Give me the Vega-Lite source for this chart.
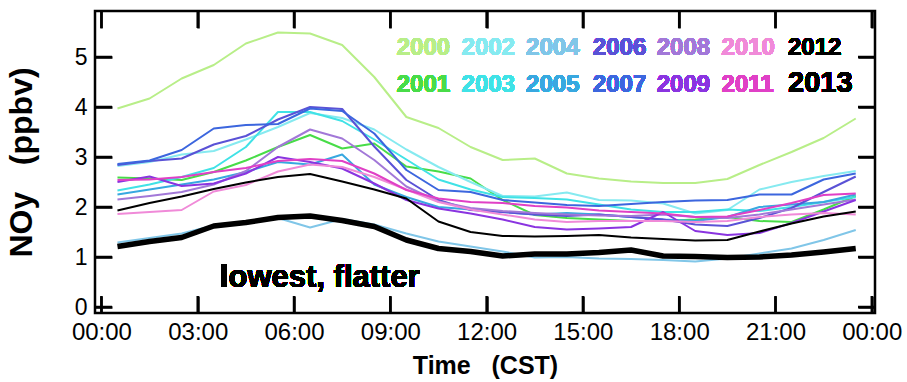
{
  "$schema": "https://vega.github.io/schema/vega-lite/v6.json",
  "width": 780,
  "height": 302,
  "autosize": "none",
  "padding": {"left": 95, "top": 11, "right": 32, "bottom": 69},
  "background": "white",
  "config": {"view": {"stroke": "black", "strokeWidth": 2.5}, "font": "Liberation Sans"},
  "data": {"values": [
    {"year":"2000","hour":0.5,"noy":3.97},{"year":"2000","hour":1.5,"noy":4.17},{"year":"2000","hour":2.5,"noy":4.57},{"year":"2000","hour":3.5,"noy":4.84},{"year":"2000","hour":4.5,"noy":5.27},{"year":"2000","hour":5.5,"noy":5.49},{"year":"2000","hour":6.5,"noy":5.47},{"year":"2000","hour":7.5,"noy":5.24},{"year":"2000","hour":8.5,"noy":4.6},{"year":"2000","hour":9.5,"noy":3.8},{"year":"2000","hour":10.5,"noy":3.58},{"year":"2000","hour":11.5,"noy":3.2},{"year":"2000","hour":12.5,"noy":2.94},{"year":"2000","hour":13.5,"noy":2.97},{"year":"2000","hour":14.5,"noy":2.67},{"year":"2000","hour":15.5,"noy":2.57},{"year":"2000","hour":16.5,"noy":2.51},{"year":"2000","hour":17.5,"noy":2.48},{"year":"2000","hour":18.5,"noy":2.48},{"year":"2000","hour":19.5,"noy":2.56},{"year":"2000","hour":20.5,"noy":2.84},{"year":"2000","hour":21.5,"noy":3.1},{"year":"2000","hour":22.5,"noy":3.38},{"year":"2000","hour":23.5,"noy":3.77},
    {"year":"2001","hour":0.5,"noy":2.59},{"year":"2001","hour":1.5,"noy":2.57},{"year":"2001","hour":2.5,"noy":2.54},{"year":"2001","hour":3.5,"noy":2.7},{"year":"2001","hour":4.5,"noy":2.93},{"year":"2001","hour":5.5,"noy":3.2},{"year":"2001","hour":6.5,"noy":3.44},{"year":"2001","hour":7.5,"noy":3.17},{"year":"2001","hour":8.5,"noy":3.27},{"year":"2001","hour":9.5,"noy":2.81},{"year":"2001","hour":10.5,"noy":2.71},{"year":"2001","hour":11.5,"noy":2.57},{"year":"2001","hour":12.5,"noy":2.14},{"year":"2001","hour":13.5,"noy":1.84},{"year":"2001","hour":14.5,"noy":1.78},{"year":"2001","hour":15.5,"noy":1.75},{"year":"2001","hour":16.5,"noy":1.72},{"year":"2001","hour":17.5,"noy":1.72},{"year":"2001","hour":18.5,"noy":1.75},{"year":"2001","hour":19.5,"noy":1.8},{"year":"2001","hour":20.5,"noy":1.72},{"year":"2001","hour":21.5,"noy":1.7},{"year":"2001","hour":22.5,"noy":1.95},{"year":"2001","hour":23.5,"noy":2.22},
    {"year":"2002","hour":0.5,"noy":2.82},{"year":"2002","hour":1.5,"noy":2.9},{"year":"2002","hour":2.5,"noy":3.05},{"year":"2002","hour":3.5,"noy":3.12},{"year":"2002","hour":4.5,"noy":3.35},{"year":"2002","hour":5.5,"noy":3.6},{"year":"2002","hour":6.5,"noy":3.88},{"year":"2002","hour":7.5,"noy":3.78},{"year":"2002","hour":8.5,"noy":3.55},{"year":"2002","hour":9.5,"noy":3.15},{"year":"2002","hour":10.5,"noy":2.8},{"year":"2002","hour":11.5,"noy":2.5},{"year":"2002","hour":12.5,"noy":2.22},{"year":"2002","hour":13.5,"noy":2.21},{"year":"2002","hour":14.5,"noy":2.29},{"year":"2002","hour":15.5,"noy":2.14},{"year":"2002","hour":16.5,"noy":2.13},{"year":"2002","hour":17.5,"noy":2.07},{"year":"2002","hour":18.5,"noy":1.87},{"year":"2002","hour":19.5,"noy":1.94},{"year":"2002","hour":20.5,"noy":2.35},{"year":"2002","hour":21.5,"noy":2.5},{"year":"2002","hour":22.5,"noy":2.62},{"year":"2002","hour":23.5,"noy":2.72},
    {"year":"2003","hour":0.5,"noy":2.33},{"year":"2003","hour":1.5,"noy":2.45},{"year":"2003","hour":2.5,"noy":2.6},{"year":"2003","hour":3.5,"noy":2.78},{"year":"2003","hour":4.5,"noy":3.2},{"year":"2003","hour":5.5,"noy":3.9},{"year":"2003","hour":6.5,"noy":3.9},{"year":"2003","hour":7.5,"noy":3.72},{"year":"2003","hour":8.5,"noy":3.35},{"year":"2003","hour":9.5,"noy":2.95},{"year":"2003","hour":10.5,"noy":2.55},{"year":"2003","hour":11.5,"noy":2.35},{"year":"2003","hour":12.5,"noy":2.2},{"year":"2003","hour":13.5,"noy":2.18},{"year":"2003","hour":14.5,"noy":2.15},{"year":"2003","hour":15.5,"noy":2.05},{"year":"2003","hour":16.5,"noy":1.95},{"year":"2003","hour":17.5,"noy":1.9},{"year":"2003","hour":18.5,"noy":1.9},{"year":"2003","hour":19.5,"noy":1.95},{"year":"2003","hour":20.5,"noy":1.92},{"year":"2003","hour":21.5,"noy":2.0},{"year":"2003","hour":22.5,"noy":2.1},{"year":"2003","hour":23.5,"noy":2.2},
    {"year":"2004","hour":0.5,"noy":1.29},{"year":"2004","hour":1.5,"noy":1.38},{"year":"2004","hour":2.5,"noy":1.47},{"year":"2004","hour":3.5,"noy":1.63},{"year":"2004","hour":4.5,"noy":1.71},{"year":"2004","hour":5.5,"noy":1.78},{"year":"2004","hour":6.5,"noy":1.59},{"year":"2004","hour":7.5,"noy":1.76},{"year":"2004","hour":8.5,"noy":1.65},{"year":"2004","hour":9.5,"noy":1.47},{"year":"2004","hour":10.5,"noy":1.31},{"year":"2004","hour":11.5,"noy":1.21},{"year":"2004","hour":12.5,"noy":1.11},{"year":"2004","hour":13.5,"noy":0.99},{"year":"2004","hour":14.5,"noy":1.0},{"year":"2004","hour":15.5,"noy":0.97},{"year":"2004","hour":16.5,"noy":0.96},{"year":"2004","hour":17.5,"noy":0.94},{"year":"2004","hour":18.5,"noy":0.91},{"year":"2004","hour":19.5,"noy":0.97},{"year":"2004","hour":20.5,"noy":1.07},{"year":"2004","hour":21.5,"noy":1.17},{"year":"2004","hour":22.5,"noy":1.34},{"year":"2004","hour":23.5,"noy":1.54},
    {"year":"2005","hour":0.5,"noy":2.25},{"year":"2005","hour":1.5,"noy":2.35},{"year":"2005","hour":2.5,"noy":2.45},{"year":"2005","hour":3.5,"noy":2.55},{"year":"2005","hour":4.5,"noy":2.7},{"year":"2005","hour":5.5,"noy":2.9},{"year":"2005","hour":6.5,"noy":2.85},{"year":"2005","hour":7.5,"noy":3.05},{"year":"2005","hour":8.5,"noy":2.45},{"year":"2005","hour":9.5,"noy":2.2},{"year":"2005","hour":10.5,"noy":2.0},{"year":"2005","hour":11.5,"noy":1.95},{"year":"2005","hour":12.5,"noy":1.9},{"year":"2005","hour":13.5,"noy":1.85},{"year":"2005","hour":14.5,"noy":1.88},{"year":"2005","hour":15.5,"noy":1.85},{"year":"2005","hour":16.5,"noy":1.8},{"year":"2005","hour":17.5,"noy":1.75},{"year":"2005","hour":18.5,"noy":1.72},{"year":"2005","hour":19.5,"noy":1.8},{"year":"2005","hour":20.5,"noy":2.0},{"year":"2005","hour":21.5,"noy":2.05},{"year":"2005","hour":22.5,"noy":2.1},{"year":"2005","hour":23.5,"noy":2.25},
    {"year":"2006","hour":0.5,"noy":2.84},{"year":"2006","hour":1.5,"noy":2.92},{"year":"2006","hour":2.5,"noy":2.97},{"year":"2006","hour":3.5,"noy":3.25},{"year":"2006","hour":4.5,"noy":3.42},{"year":"2006","hour":5.5,"noy":3.75},{"year":"2006","hour":6.5,"noy":4.0},{"year":"2006","hour":7.5,"noy":3.96},{"year":"2006","hour":8.5,"noy":3.21},{"year":"2006","hour":9.5,"noy":2.54},{"year":"2006","hour":10.5,"noy":2.14},{"year":"2006","hour":11.5,"noy":1.94},{"year":"2006","hour":12.5,"noy":1.9},{"year":"2006","hour":13.5,"noy":1.85},{"year":"2006","hour":14.5,"noy":1.82},{"year":"2006","hour":15.5,"noy":1.85},{"year":"2006","hour":16.5,"noy":1.8},{"year":"2006","hour":17.5,"noy":1.75},{"year":"2006","hour":18.5,"noy":1.65},{"year":"2006","hour":19.5,"noy":1.62},{"year":"2006","hour":20.5,"noy":1.78},{"year":"2006","hour":21.5,"noy":1.98},{"year":"2006","hour":22.5,"noy":2.3},{"year":"2006","hour":23.5,"noy":2.61},
    {"year":"2007","hour":0.5,"noy":2.86},{"year":"2007","hour":1.5,"noy":2.93},{"year":"2007","hour":2.5,"noy":3.14},{"year":"2007","hour":3.5,"noy":3.57},{"year":"2007","hour":4.5,"noy":3.64},{"year":"2007","hour":5.5,"noy":3.66},{"year":"2007","hour":6.5,"noy":3.97},{"year":"2007","hour":7.5,"noy":3.92},{"year":"2007","hour":8.5,"noy":3.47},{"year":"2007","hour":9.5,"noy":2.74},{"year":"2007","hour":10.5,"noy":2.34},{"year":"2007","hour":11.5,"noy":2.3},{"year":"2007","hour":12.5,"noy":2.14},{"year":"2007","hour":13.5,"noy":2.09},{"year":"2007","hour":14.5,"noy":2.04},{"year":"2007","hour":15.5,"noy":2.02},{"year":"2007","hour":16.5,"noy":2.06},{"year":"2007","hour":17.5,"noy":2.1},{"year":"2007","hour":18.5,"noy":2.13},{"year":"2007","hour":19.5,"noy":2.14},{"year":"2007","hour":20.5,"noy":2.25},{"year":"2007","hour":21.5,"noy":2.25},{"year":"2007","hour":22.5,"noy":2.55},{"year":"2007","hour":23.5,"noy":2.67},
    {"year":"2008","hour":0.5,"noy":2.15},{"year":"2008","hour":1.5,"noy":2.22},{"year":"2008","hour":2.5,"noy":2.3},{"year":"2008","hour":3.5,"noy":2.45},{"year":"2008","hour":4.5,"noy":2.72},{"year":"2008","hour":5.5,"noy":3.2},{"year":"2008","hour":6.5,"noy":3.55},{"year":"2008","hour":7.5,"noy":3.37},{"year":"2008","hour":8.5,"noy":2.94},{"year":"2008","hour":9.5,"noy":2.41},{"year":"2008","hour":10.5,"noy":2.11},{"year":"2008","hour":11.5,"noy":1.98},{"year":"2008","hour":12.5,"noy":1.92},{"year":"2008","hour":13.5,"noy":1.88},{"year":"2008","hour":14.5,"noy":1.85},{"year":"2008","hour":15.5,"noy":1.83},{"year":"2008","hour":16.5,"noy":1.82},{"year":"2008","hour":17.5,"noy":1.85},{"year":"2008","hour":18.5,"noy":1.8},{"year":"2008","hour":19.5,"noy":1.78},{"year":"2008","hour":20.5,"noy":1.85},{"year":"2008","hour":21.5,"noy":1.95},{"year":"2008","hour":22.5,"noy":2.05},{"year":"2008","hour":23.5,"noy":2.15},
    {"year":"2009","hour":0.5,"noy":2.5},{"year":"2009","hour":1.5,"noy":2.61},{"year":"2009","hour":2.5,"noy":2.42},{"year":"2009","hour":3.5,"noy":2.47},{"year":"2009","hour":4.5,"noy":2.67},{"year":"2009","hour":5.5,"noy":3.0},{"year":"2009","hour":6.5,"noy":2.9},{"year":"2009","hour":7.5,"noy":2.77},{"year":"2009","hour":8.5,"noy":2.47},{"year":"2009","hour":9.5,"noy":2.14},{"year":"2009","hour":10.5,"noy":1.97},{"year":"2009","hour":11.5,"noy":1.87},{"year":"2009","hour":12.5,"noy":1.75},{"year":"2009","hour":13.5,"noy":1.6},{"year":"2009","hour":14.5,"noy":1.55},{"year":"2009","hour":15.5,"noy":1.57},{"year":"2009","hour":16.5,"noy":1.6},{"year":"2009","hour":17.5,"noy":1.9},{"year":"2009","hour":18.5,"noy":1.52},{"year":"2009","hour":19.5,"noy":1.44},{"year":"2009","hour":20.5,"noy":1.48},{"year":"2009","hour":21.5,"noy":1.68},{"year":"2009","hour":22.5,"noy":1.91},{"year":"2009","hour":23.5,"noy":2.14},
    {"year":"2010","hour":0.5,"noy":1.86},{"year":"2010","hour":1.5,"noy":1.9},{"year":"2010","hour":2.5,"noy":1.94},{"year":"2010","hour":3.5,"noy":2.31},{"year":"2010","hour":4.5,"noy":2.44},{"year":"2010","hour":5.5,"noy":2.71},{"year":"2010","hour":6.5,"noy":2.85},{"year":"2010","hour":7.5,"noy":2.8},{"year":"2010","hour":8.5,"noy":2.6},{"year":"2010","hour":9.5,"noy":2.35},{"year":"2010","hour":10.5,"noy":2.1},{"year":"2010","hour":11.5,"noy":1.95},{"year":"2010","hour":12.5,"noy":1.85},{"year":"2010","hour":13.5,"noy":1.75},{"year":"2010","hour":14.5,"noy":1.7},{"year":"2010","hour":15.5,"noy":1.72},{"year":"2010","hour":16.5,"noy":1.72},{"year":"2010","hour":17.5,"noy":1.72},{"year":"2010","hour":18.5,"noy":1.7},{"year":"2010","hour":19.5,"noy":1.72},{"year":"2010","hour":20.5,"noy":1.8},{"year":"2010","hour":21.5,"noy":1.85},{"year":"2010","hour":22.5,"noy":1.88},{"year":"2010","hour":23.5,"noy":1.85},
    {"year":"2011","hour":0.5,"noy":2.54},{"year":"2011","hour":1.5,"noy":2.55},{"year":"2011","hour":2.5,"noy":2.6},{"year":"2011","hour":3.5,"noy":2.7},{"year":"2011","hour":4.5,"noy":2.78},{"year":"2011","hour":5.5,"noy":2.92},{"year":"2011","hour":6.5,"noy":2.96},{"year":"2011","hour":7.5,"noy":2.92},{"year":"2011","hour":8.5,"noy":2.67},{"year":"2011","hour":9.5,"noy":2.34},{"year":"2011","hour":10.5,"noy":2.17},{"year":"2011","hour":11.5,"noy":2.1},{"year":"2011","hour":12.5,"noy":2.08},{"year":"2011","hour":13.5,"noy":2.02},{"year":"2011","hour":14.5,"noy":1.99},{"year":"2011","hour":15.5,"noy":1.93},{"year":"2011","hour":16.5,"noy":1.9},{"year":"2011","hour":17.5,"noy":1.87},{"year":"2011","hour":18.5,"noy":1.8},{"year":"2011","hour":19.5,"noy":1.81},{"year":"2011","hour":20.5,"noy":1.94},{"year":"2011","hour":21.5,"noy":2.08},{"year":"2011","hour":22.5,"noy":2.24},{"year":"2011","hour":23.5,"noy":2.27},
    {"year":"2012","hour":0.5,"noy":1.93},{"year":"2012","hour":1.5,"noy":2.08},{"year":"2012","hour":2.5,"noy":2.21},{"year":"2012","hour":3.5,"noy":2.36},{"year":"2012","hour":4.5,"noy":2.49},{"year":"2012","hour":5.5,"noy":2.6},{"year":"2012","hour":6.5,"noy":2.66},{"year":"2012","hour":7.5,"noy":2.51},{"year":"2012","hour":8.5,"noy":2.35},{"year":"2012","hour":9.5,"noy":2.17},{"year":"2012","hour":10.5,"noy":1.71},{"year":"2012","hour":11.5,"noy":1.5},{"year":"2012","hour":12.5,"noy":1.42},{"year":"2012","hour":13.5,"noy":1.41},{"year":"2012","hour":14.5,"noy":1.42},{"year":"2012","hour":15.5,"noy":1.44},{"year":"2012","hour":16.5,"noy":1.39},{"year":"2012","hour":17.5,"noy":1.36},{"year":"2012","hour":18.5,"noy":1.33},{"year":"2012","hour":19.5,"noy":1.34},{"year":"2012","hour":20.5,"noy":1.51},{"year":"2012","hour":21.5,"noy":1.67},{"year":"2012","hour":22.5,"noy":1.81},{"year":"2012","hour":23.5,"noy":1.91},
    {"year":"2013","hour":0.5,"noy":1.21},{"year":"2013","hour":1.5,"noy":1.31},{"year":"2013","hour":2.5,"noy":1.39},{"year":"2013","hour":3.5,"noy":1.62},{"year":"2013","hour":4.5,"noy":1.69},{"year":"2013","hour":5.5,"noy":1.79},{"year":"2013","hour":6.5,"noy":1.82},{"year":"2013","hour":7.5,"noy":1.73},{"year":"2013","hour":8.5,"noy":1.61},{"year":"2013","hour":9.5,"noy":1.34},{"year":"2013","hour":10.5,"noy":1.17},{"year":"2013","hour":11.5,"noy":1.11},{"year":"2013","hour":12.5,"noy":1.02},{"year":"2013","hour":13.5,"noy":1.06},{"year":"2013","hour":14.5,"noy":1.06},{"year":"2013","hour":15.5,"noy":1.09},{"year":"2013","hour":16.5,"noy":1.14},{"year":"2013","hour":17.5,"noy":1.02},{"year":"2013","hour":18.5,"noy":1.01},{"year":"2013","hour":19.5,"noy":0.99},{"year":"2013","hour":20.5,"noy":1.0},{"year":"2013","hour":21.5,"noy":1.04},{"year":"2013","hour":22.5,"noy":1.1},{"year":"2013","hour":23.5,"noy":1.17}
  ]},
  "resolve": {"axis": {"x": "independent", "y": "independent"}},
  "layer": [
    {
      "transform": [{"filter": "datum.year !== '2013'"}],
      "mark": {"type": "line", "strokeWidth": 2, "strokeJoin": "round"},
      "encoding": {
        "x": {
          "field": "hour", "type": "quantitative",
          "scale": {"domain": [-0.2, 24.1], "nice": false, "zero": false},
          "axis": {
            "orient": "bottom", "values": [0, 3, 6, 9, 12, 15, 18, 21, 24],
            "labelExpr": "(datum.value % 24 < 10 ? '0' : '') + (datum.value % 24) + ':00'",
            "domain": false, "grid": false, "offset": -17,
            "ticks": true, "tickSize": 17, "tickWidth": 2.5, "tickColor": "black",
            "labelFont": "Liberation Sans", "labelFontSize": 24, "labelColor": "black",
            "labelPadding": 7, "labelFlush": false, "labelOverlap": false, "labelBound": false,
            "title": "Time\u00a0\u00a0\u00a0(CST)", "titleFont": "Liberation Sans", "titleFontSize": 25,
            "titleFontWeight": "bold", "titleColor": "black", "titlePadding": 9
          }
        },
        "y": {
          "field": "noy", "type": "quantitative",
          "scale": {"domain": [-0.12, 5.92], "nice": false, "zero": false},
          "axis": {
            "orient": "left", "values": [0, 1, 2, 3, 4, 5],
            "domain": false, "grid": false, "offset": -17,
            "ticks": true, "tickSize": 17, "tickWidth": 2.5, "tickColor": "black",
            "labelFont": "Liberation Sans", "labelFontSize": 23, "labelColor": "black",
            "labelPadding": 8, "labelFlush": false, "labelOverlap": false, "labelBound": false,
            "title": "NOy\u00a0\u00a0\u00a0(ppbv)", "titleFont": "Liberation Sans", "titleFontSize": 32,
            "titleFontWeight": "bold", "titleColor": "black", "titlePadding": 36
          }
        },
        "color": {
          "field": "year", "type": "nominal",
          "scale": {
            "domain": ["2000", "2001", "2002", "2003", "2004", "2005", "2006", "2007", "2008", "2009", "2010", "2011", "2012", "2013"],
            "range": ["#b8ee88", "#48dc48", "#86eaf0", "#40e2e6", "#80c6e8", "#38a8e0", "#5a52d6", "#3c66de", "#a278d8", "#8a34e0", "#f08ad8", "#e040c6", "#000000", "#000000"]
          },
          "legend": null
        }
      }
    },
    {
      "transform": [{"filter": "datum.year === '2013'"}],
      "mark": {"type": "line", "strokeWidth": 5.5, "strokeJoin": "round"},
      "encoding": {
        "x": {
          "field": "hour", "type": "quantitative",
          "axis": {
            "orient": "top", "values": [0, 3, 6, 9, 12, 15, 18, 21, 24],
            "labels": false, "domain": false, "grid": false, "title": null, "offset": -17,
            "ticks": true, "tickSize": 17, "tickWidth": 2.5, "tickColor": "black"
          }
        },
        "y": {
          "field": "noy", "type": "quantitative",
          "axis": {
            "orient": "right", "values": [0, 1, 2, 3, 4, 5],
            "labels": false, "domain": false, "grid": false, "title": null, "offset": -17,
            "ticks": true, "tickSize": 17, "tickWidth": 2.5, "tickColor": "black"
          }
        },
        "color": {"field": "year", "type": "nominal", "legend": null}
      }
    },
    {
      "mark": {"type": "text", "align": "left", "baseline": "alphabetic", "font": "Liberation Sans", "fontWeight": "bold", "fontSize": 24},
      "encoding": {"x": {"datum": 9.2, "type": "quantitative", "axis": null}, "y": {"datum": 5.04, "type": "quantitative", "axis": null}, "text": {"datum": "2000"}, "color": {"datum": "2000", "type": "nominal", "legend": null}}
    },
    {
      "mark": {"type": "text", "align": "left", "baseline": "alphabetic", "font": "Liberation Sans", "fontWeight": "bold", "fontSize": 24},
      "encoding": {"x": {"datum": 9.2, "type": "quantitative", "axis": null}, "y": {"datum": 4.3, "type": "quantitative", "axis": null}, "text": {"datum": "2001"}, "color": {"datum": "2001", "type": "nominal", "legend": null}}
    },
    {
      "mark": {"type": "text", "align": "left", "baseline": "alphabetic", "font": "Liberation Sans", "fontWeight": "bold", "fontSize": 24},
      "encoding": {"x": {"datum": 11.22, "type": "quantitative", "axis": null}, "y": {"datum": 5.04, "type": "quantitative", "axis": null}, "text": {"datum": "2002"}, "color": {"datum": "2002", "type": "nominal", "legend": null}}
    },
    {
      "mark": {"type": "text", "align": "left", "baseline": "alphabetic", "font": "Liberation Sans", "fontWeight": "bold", "fontSize": 24},
      "encoding": {"x": {"datum": 11.22, "type": "quantitative", "axis": null}, "y": {"datum": 4.3, "type": "quantitative", "axis": null}, "text": {"datum": "2003"}, "color": {"datum": "2003", "type": "nominal", "legend": null}}
    },
    {
      "mark": {"type": "text", "align": "left", "baseline": "alphabetic", "font": "Liberation Sans", "fontWeight": "bold", "fontSize": 24},
      "encoding": {"x": {"datum": 13.23, "type": "quantitative", "axis": null}, "y": {"datum": 5.04, "type": "quantitative", "axis": null}, "text": {"datum": "2004"}, "color": {"datum": "2004", "type": "nominal", "legend": null}}
    },
    {
      "mark": {"type": "text", "align": "left", "baseline": "alphabetic", "font": "Liberation Sans", "fontWeight": "bold", "fontSize": 24},
      "encoding": {"x": {"datum": 13.23, "type": "quantitative", "axis": null}, "y": {"datum": 4.3, "type": "quantitative", "axis": null}, "text": {"datum": "2005"}, "color": {"datum": "2005", "type": "nominal", "legend": null}}
    },
    {
      "mark": {"type": "text", "align": "left", "baseline": "alphabetic", "font": "Liberation Sans", "fontWeight": "bold", "fontSize": 24},
      "encoding": {"x": {"datum": 15.31, "type": "quantitative", "axis": null}, "y": {"datum": 5.04, "type": "quantitative", "axis": null}, "text": {"datum": "2006"}, "color": {"datum": "2006", "type": "nominal", "legend": null}}
    },
    {
      "mark": {"type": "text", "align": "left", "baseline": "alphabetic", "font": "Liberation Sans", "fontWeight": "bold", "fontSize": 24},
      "encoding": {"x": {"datum": 15.31, "type": "quantitative", "axis": null}, "y": {"datum": 4.3, "type": "quantitative", "axis": null}, "text": {"datum": "2007"}, "color": {"datum": "2007", "type": "nominal", "legend": null}}
    },
    {
      "mark": {"type": "text", "align": "left", "baseline": "alphabetic", "font": "Liberation Sans", "fontWeight": "bold", "fontSize": 24},
      "encoding": {"x": {"datum": 17.3, "type": "quantitative", "axis": null}, "y": {"datum": 5.04, "type": "quantitative", "axis": null}, "text": {"datum": "2008"}, "color": {"datum": "2008", "type": "nominal", "legend": null}}
    },
    {
      "mark": {"type": "text", "align": "left", "baseline": "alphabetic", "font": "Liberation Sans", "fontWeight": "bold", "fontSize": 24},
      "encoding": {"x": {"datum": 17.3, "type": "quantitative", "axis": null}, "y": {"datum": 4.3, "type": "quantitative", "axis": null}, "text": {"datum": "2009"}, "color": {"datum": "2009", "type": "nominal", "legend": null}}
    },
    {
      "mark": {"type": "text", "align": "left", "baseline": "alphabetic", "font": "Liberation Sans", "fontWeight": "bold", "fontSize": 24},
      "encoding": {"x": {"datum": 19.32, "type": "quantitative", "axis": null}, "y": {"datum": 5.04, "type": "quantitative", "axis": null}, "text": {"datum": "2010"}, "color": {"datum": "2010", "type": "nominal", "legend": null}}
    },
    {
      "mark": {"type": "text", "align": "left", "baseline": "alphabetic", "font": "Liberation Sans", "fontWeight": "bold", "fontSize": 24},
      "encoding": {"x": {"datum": 19.32, "type": "quantitative", "axis": null}, "y": {"datum": 4.3, "type": "quantitative", "axis": null}, "text": {"datum": "2011"}, "color": {"datum": "2011", "type": "nominal", "legend": null}}
    },
    {
      "mark": {"type": "text", "align": "left", "baseline": "alphabetic", "font": "Liberation Sans", "fontWeight": "bold", "fontSize": 24},
      "encoding": {"x": {"datum": 21.39, "type": "quantitative", "axis": null}, "y": {"datum": 5.04, "type": "quantitative", "axis": null}, "text": {"datum": "2012"}, "color": {"datum": "2012", "type": "nominal", "legend": null}}
    },
    {
      "mark": {"type": "text", "align": "left", "baseline": "alphabetic", "font": "Liberation Sans", "fontWeight": "bold", "fontSize": 29},
      "encoding": {"x": {"datum": 21.39, "type": "quantitative", "axis": null}, "y": {"datum": 4.3, "type": "quantitative", "axis": null}, "text": {"datum": "2013"}, "color": {"datum": "2013", "type": "nominal", "legend": null}}
    },
    {
      "mark": {"type": "text", "text": "lowest, flatter", "font": "Liberation Sans", "fontSize": 31, "fontWeight": "bold", "align": "left", "baseline": "alphabetic", "color": "black"},
      "encoding": {
        "x": {"datum": 3.69, "type": "quantitative", "axis": null},
        "y": {"datum": 0.4, "type": "quantitative", "axis": null}
      }
    },
    {
      "data": {"values": [{"at": 0}, {"at": 3}, {"at": 6}, {"at": 9}, {"at": 12}, {"at": 15}, {"at": 18}, {"at": 21}, {"at": 24}]},
      "layer": [
        {
          "mark": {"type": "rule", "color": "black", "strokeWidth": 2.5},
          "encoding": {
            "x": {"field": "at", "type": "quantitative", "axis": null},
            "y": {"datum": -0.12, "type": "quantitative", "axis": null},
            "y2": {"datum": 0.22}
          }
        },
        {
          "mark": {"type": "rule", "color": "black", "strokeWidth": 2.5},
          "encoding": {
            "x": {"field": "at", "type": "quantitative", "axis": null},
            "y": {"datum": 5.58, "type": "quantitative", "axis": null},
            "y2": {"datum": 5.92}
          }
        }
      ]
    },
    {
      "data": {"values": [{"at": 0}, {"at": 1}, {"at": 2}, {"at": 3}, {"at": 4}, {"at": 5}]},
      "layer": [
        {
          "mark": {"type": "rule", "color": "black", "strokeWidth": 2.5},
          "encoding": {
            "y": {"field": "at", "type": "quantitative", "axis": null},
            "x": {"datum": -0.2, "type": "quantitative", "axis": null},
            "x2": {"datum": 0.33}
          }
        },
        {
          "mark": {"type": "rule", "color": "black", "strokeWidth": 2.5},
          "encoding": {
            "y": {"field": "at", "type": "quantitative", "axis": null},
            "x": {"datum": 23.57, "type": "quantitative", "axis": null},
            "x2": {"datum": 24.1}
          }
        }
      ]
    }
  ]
}
